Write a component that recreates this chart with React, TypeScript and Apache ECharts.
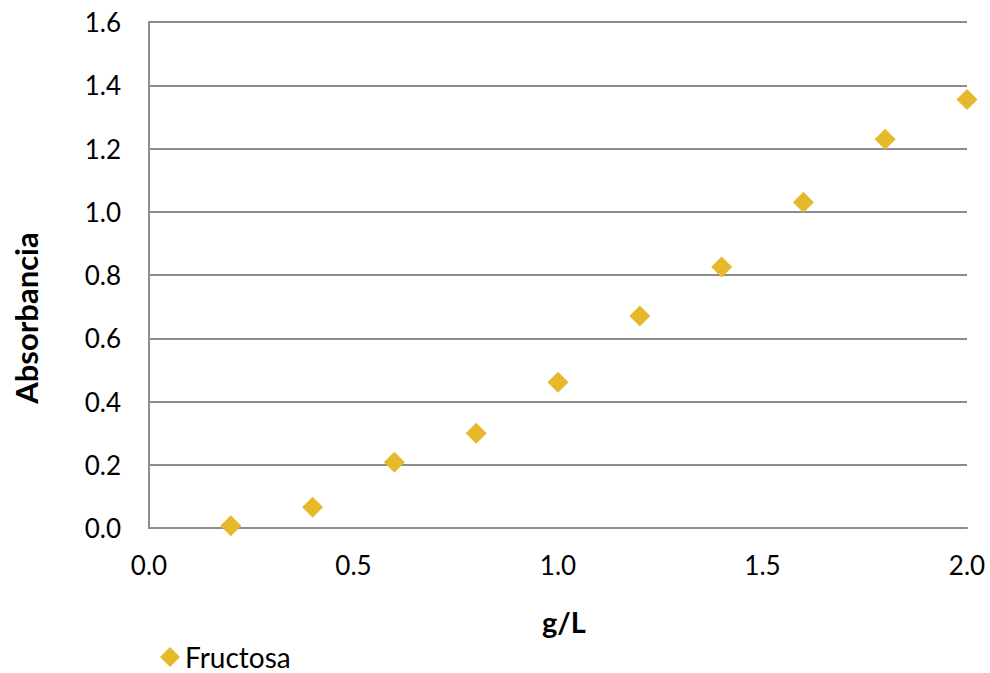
import React, { useEffect, useRef } from "react";
import * as echarts from "echarts";

const concentrations = [0.2, 0.4, 0.6, 0.8, 1.0, 1.2, 1.4, 1.6, 1.8, 2.0];
const absorbance = [0.007, 0.066, 0.208, 0.3, 0.461, 0.67, 0.825, 1.03, 1.229, 1.355];
const seriesName = "Fructosa";
const xTitle = "g/L";
const yTitle = "Absorbancia";

export default function App() {
  const ref = useRef<HTMLDivElement>(null);
  useEffect(() => {
    if (!ref.current) return;
    const chart = echarts.init(ref.current, undefined, { renderer: "svg" });
    const font = "Lato, 'Open Sans', sans-serif";
    chart.setOption({
      animation: false,
      backgroundColor: "#ffffff",
      textStyle: { fontFamily: font },
      grid: { left: 149, right: 23, top: 22, bottom: 145, containLabel: false },
      legend: {
        show: true,
        left: 160,
        top: 642,
        padding: 0,
        icon: "diamond",
        itemWidth: 20,
        itemHeight: 20,
        itemGap: 10,
        textStyle: { fontSize: 28, lineHeight: 30, color: "#000", fontFamily: font },
        data: [seriesName],
      },
      graphic: [
        {
          type: "text",
          x: 26,
          y: 318,
          rotation: Math.PI / 2,
          style: {
            text: yTitle,
            fontSize: 31,
            fontWeight: "bold",
            fill: "#000",
            fontFamily: font,
            textAlign: "center",
            textVerticalAlign: "middle",
          },
        },
        {
          type: "text",
          x: 564,
          y: 621,
          style: {
            text: xTitle,
            fontSize: 29,
            fontWeight: "bold",
            fill: "#000",
            fontFamily: font,
            textAlign: "center",
            textVerticalAlign: "middle",
          },
        },
      ],
      xAxis: {
        type: "value",
        min: 0,
        max: 2,
        interval: 0.5,
        axisLine: { show: true, lineStyle: { color: "#8c8c8c", width: 2 } },
        axisTick: { show: false },
        splitLine: { show: false },
        axisLabel: {
          fontSize: 26,
          color: "#000",
          margin: 24,
          formatter: (v: number) => v.toFixed(1),
        },
      },
      yAxis: {
        type: "value",
        min: 0,
        max: 1.6,
        interval: 0.2,
        axisLine: { show: true, lineStyle: { color: "#8c8c8c", width: 2 } },
        axisTick: { show: false },
        splitLine: { show: true, lineStyle: { color: "#8c8c8c", width: 2 } },
        axisLabel: {
          fontSize: 26,
          color: "#000",
          margin: 28,
          formatter: (v: number) => v.toFixed(1),
        },
      },
      series: [
        {
          name: seriesName,
          type: "scatter",
          symbol: "diamond",
          symbolSize: 21,
          itemStyle: { color: "#E6B92A", opacity: 1 },
          data: concentrations.map((x, i) => [x, absorbance[i]]),
        },
      ],
    });
    return () => chart.dispose();
  }, []);
  return <div ref={ref} style={{ width: 990, height: 673, position: "absolute", left: 0, top: 0 }} />;
}
